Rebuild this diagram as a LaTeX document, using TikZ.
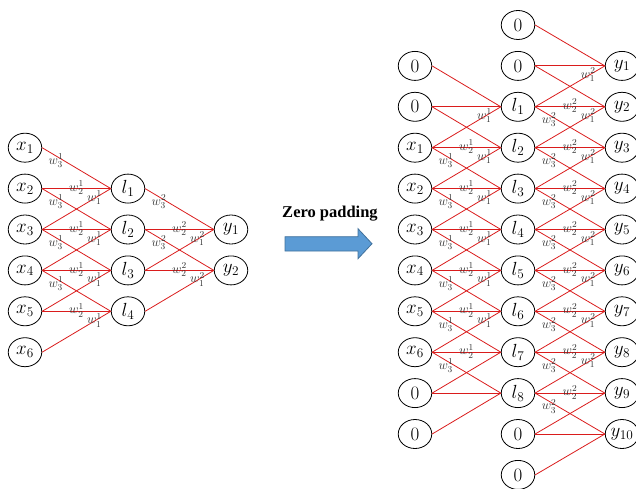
\RequirePackage{fix-cm}
\documentclass[tikz,border=0pt]{standalone}
\usepackage{fontspec}
\newfontfamily\zpfont{Liberation Serif}
\usetikzlibrary{shapes.geometric}

\definecolor{edgered}{RGB}{218,28,28}
\definecolor{lblgray}{RGB}{50,50,50}
\definecolor{arrfill}{RGB}{91,155,213}
\definecolor{arredge}{RGB}{65,113,156}

\tikzset{
  unit/.style={ellipse, draw=black, line width=0.8pt, minimum width=33.5pt,
    minimum height=29pt, inner sep=0pt, font=\fontsize{19}{22}\selectfont},
  conn/.style={draw=edgered, line width=0.8pt},
  wlbl/.style={font=\fontsize{13}{15}\selectfont, text=lblgray, inner sep=0pt},
  wthree/.style={wlbl, pos=0.2, yshift=-5pt},
  wtwo/.style={wlbl, pos=0.5, yshift=1pt},
  wone/.style={wlbl, pos=0.76, yshift=1pt},
  padarrow/.style={fill=arrfill, draw=arredge, line width=0.8pt, line join=miter}
}

% row r sits at y = 25 + 40.9 r
\newcommand\rowy[1]{25+40.9*(#1)}

\begin{document}
\begin{tikzpicture}[x=1pt, y=-1pt]
\useasboundingbox (0,0) rectangle (636,489);

% ---------- original network ----------
\foreach \k in {1,...,6}{
  \pgfmathsetmacro\yy{\rowy{\k+2}}
  \node[unit] (x\k) at (25,\yy) {$x_{\k}$};
}
\foreach \k in {1,...,4}{
  \pgfmathsetmacro\yy{\rowy{\k+3}}
  \node[unit] (l\k) at (128,\yy) {$l_{\k}$};
}
\foreach \k in {1,2}{
  \pgfmathsetmacro\yy{\rowy{\k+4}}
  \node[unit] (y\k) at (231,\yy) {$y_{\k}$};
}

\foreach \k in {1,...,4}{
  \pgfmathtruncatemacro\a{\k+1}
  \pgfmathtruncatemacro\b{\k+2}
  \draw[conn] (x\k.east) -- (l\k.west);
  \draw[conn] (x\a.east) -- (l\k.west);
  \draw[conn] (x\b.east) -- (l\k.west);
}
\foreach \k in {1,2}{
  \pgfmathtruncatemacro\a{\k+1}
  \pgfmathtruncatemacro\b{\k+2}
  \draw[conn] (l\k.east) -- (y\k.west);
  \draw[conn] (l\a.east) -- (y\k.west);
  \draw[conn] (l\b.east) -- (y\k.west);
}
\foreach \k in {1,...,4}{
  \pgfmathtruncatemacro\a{\k+1}
  \pgfmathtruncatemacro\b{\k+2}
  \path (x\k.east) -- (l\k.west) node[wthree] {$w_3^1$};
  \path (x\a.east) -- (l\k.west) node[wtwo] {$w_2^1$};
  \path (x\b.east) -- (l\k.west) node[wone] {$w_1^1$};
}
\foreach \k in {1,2}{
  \pgfmathtruncatemacro\a{\k+1}
  \pgfmathtruncatemacro\b{\k+2}
  \path (l\k.east) -- (y\k.west) node[wthree] {$w_3^2$};
  \path (l\a.east) -- (y\k.west) node[wtwo] {$w_2^2$};
  \path (l\b.east) -- (y\k.west) node[wone] {$w_1^2$};
}

% ---------- arrow and caption ----------
\node[font=\zpfont\bfseries\fontsize{16.5}{18}\selectfont, anchor=base, inner sep=0pt]
  (zp) at (330,217) {Zero padding};
\draw[padarrow] (285,236.7) -- (358,236.7) -- (358,228.7) -- (372,243.7)
  -- (358,258.7) -- (358,251) -- (285,251) -- cycle;

% ---------- zero-padded network ----------
\foreach \r in {1,...,10}{
  \pgfmathsetmacro\yy{\rowy{\r}}
  \pgfmathtruncatemacro\k{\r-2}
  \node[unit] (A\r) at (415,\yy) {$\ifnum\r<3 0\else\ifnum\r>8 0\else x_{\k}\fi\fi$};
}
\foreach \r in {0,...,11}{
  \pgfmathsetmacro\yy{\rowy{\r}}
  \pgfmathtruncatemacro\k{\r-1}
  \node[unit] (B\r) at (518,\yy) {$\ifnum\r<2 0\else\ifnum\r>9 0\else l_{\k}\fi\fi$};
}
\foreach \r in {1,...,10}{
  \pgfmathsetmacro\yy{\rowy{\r}}
  \node[unit] (C\r) at (622,\yy) {$y_{\r}$};
}

\foreach \r in {2,...,9}{
  \pgfmathtruncatemacro\p{\r-1}
  \pgfmathtruncatemacro\n{\r+1}
  \draw[conn] (A\p.east) -- (B\r.west);
  \draw[conn] (A\r.east) -- (B\r.west);
  \draw[conn] (A\n.east) -- (B\r.west);
}
\foreach \r in {1,...,10}{
  \pgfmathtruncatemacro\p{\r-1}
  \pgfmathtruncatemacro\n{\r+1}
  \draw[conn] (B\p.east) -- (C\r.west);
  \draw[conn] (B\r.east) -- (C\r.west);
  \draw[conn] (B\n.east) -- (C\r.west);
}

% weights only on links that leave a real (non-padding) unit
\foreach \r in {2,...,9}{
  \pgfmathtruncatemacro\p{\r-1}
  \pgfmathtruncatemacro\n{\r+1}
  \ifnum\p>2 \path (A\p.east) -- (B\r.west) node[wthree] {$w_3^1$};\fi
  \ifnum\r>2 \ifnum\r<9 \path (A\r.east) -- (B\r.west) node[wtwo] {$w_2^1$};\fi\fi
  \ifnum\n<9 \path (A\n.east) -- (B\r.west) node[wone] {$w_1^1$};\fi
}
\foreach \r in {1,...,10}{
  \pgfmathtruncatemacro\p{\r-1}
  \pgfmathtruncatemacro\n{\r+1}
  \ifnum\p>1 \path (B\p.east) -- (C\r.west) node[wthree] {$w_3^2$};\fi
  \ifnum\r>1 \ifnum\r<10 \path (B\r.east) -- (C\r.west) node[wtwo] {$w_2^2$};\fi\fi
  \ifnum\n<10 \path (B\n.east) -- (C\r.west) node[wone] {$w_1^2$};\fi
}
\end{tikzpicture}
\end{document}
